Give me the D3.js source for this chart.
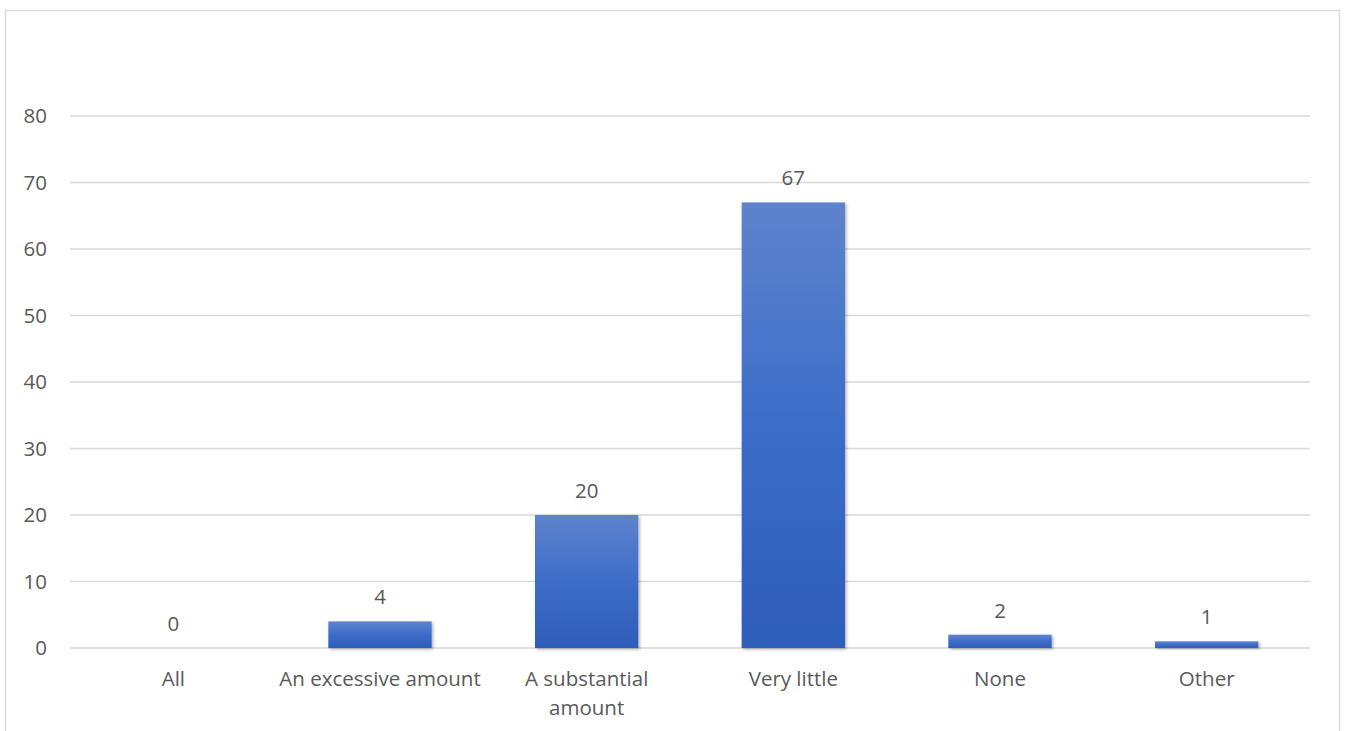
<!DOCTYPE html>
<html>
<head>
<meta charset="utf-8">
<script src="https://cdn.jsdelivr.net/npm/d3@7"></script>
<style>
  body { margin: 0; background: #fff; }
  text { font-family: "Open Sans", Lato, sans-serif; fill: #595959; }
</style>
</head>
<body>
<div id="chart"></div>
<script>
const categories = ["All", "An excessive amount", "A substantial amount", "Very little", "None", "Other"];
const values = [0, 4, 20, 67, 2, 1];
const yTicks = [0, 10, 20, 30, 40, 50, 60, 70, 80];

const W = 1346, H = 731;
const margin = { top: 116, right: 36, bottom: 83, left: 70 };
const width = W - margin.left - margin.right;
const height = H - margin.top - margin.bottom;
const fontSize = "20.5px";

const svg = d3.select("#chart").append("svg")
  .attr("width", W)
  .attr("height", H);

// outer frame
svg.append("rect")
  .attr("x", 5.5).attr("y", 10.5)
  .attr("width", 1334).attr("height", 740)
  .attr("fill", "none").attr("stroke", "#d9d9d9").attr("stroke-width", 1.5);

const defs = svg.append("defs");
const grad = defs.append("linearGradient")
  .attr("id", "barGrad").attr("x1", 0).attr("y1", 0).attr("x2", 0).attr("y2", 1);
grad.append("stop").attr("offset", "0%").attr("stop-color", "#5e83cd");
grad.append("stop").attr("offset", "50%").attr("stop-color", "#3c6dc8");
grad.append("stop").attr("offset", "100%").attr("stop-color", "#2e5dba");

const shadow = defs.append("filter").attr("id", "shadow")
  .attr("x", "-10%").attr("y", "-10%").attr("width", "130%").attr("height", "130%");
shadow.append("feDropShadow")
  .attr("dx", 1.5).attr("dy", 1.5).attr("stdDeviation", 1.5)
  .attr("flood-color", "#000").attr("flood-opacity", 0.3);

const g = svg.append("g")
  .attr("transform", "translate(" + margin.left + "," + margin.top + ")");

const x = d3.scaleBand()
  .domain(categories)
  .range([0, width])
  .paddingInner(0.5)
  .paddingOuter(0.25);

const y = d3.scaleLinear().domain([0, 80]).range([height, 0]);

// gridlines
g.append("g")
  .selectAll("line")
  .data(yTicks)
  .enter().append("line")
  .attr("x1", 0).attr("x2", width)
  .attr("y1", d => y(d)).attr("y2", d => y(d))
  .attr("stroke", "#d9d9d9").attr("stroke-width", 1.5);

// y axis labels
const yAxis = d3.axisLeft(y).tickValues(yTicks).tickSize(0).tickPadding(23);
g.append("g")
  .call(yAxis)
  .call(s => s.select(".domain").remove())
  .selectAll("text")
  .style("font-size", fontSize)
  .attr("fill", "#595959");

// bars
g.selectAll(".bar")
  .data(values)
  .enter().append("rect")
  .attr("class", "bar")
  .attr("x", (d, i) => x(categories[i]))
  .attr("width", x.bandwidth())
  .attr("y", d => y(d))
  .attr("height", d => height - y(d))
  .attr("fill", "url(#barGrad)")
  .attr("filter", "url(#shadow)")
  .style("display", d => d > 0 ? null : "none");

// value labels
g.selectAll(".val")
  .data(values)
  .enter().append("text")
  .attr("class", "val")
  .attr("x", (d, i) => x(categories[i]) + x.bandwidth() / 2)
  .attr("y", d => y(d) - 17)
  .attr("text-anchor", "middle")
  .style("font-size", fontSize)
  .text(d => d);

// x axis labels (wrapped)
const xAxis = d3.axisBottom(x).tickSize(0).tickPadding(0);
const xg = g.append("g")
  .attr("transform", "translate(0," + height + ")")
  .call(xAxis);
xg.select(".domain").remove();
xg.selectAll("text")
  .style("font-size", fontSize)
  .attr("fill", "#595959")
  .each(function (d) {
    const t = d3.select(this);
    const lines = d === "A substantial amount" ? ["A substantial", "amount"] : [d];
    t.text(null).attr("y", 0).attr("dy", null);
    lines.forEach((ln, i) => {
      t.append("tspan").attr("x", 0).attr("y", 38 + i * 29).text(ln);
    });
  });
</script>
</body>
</html>
